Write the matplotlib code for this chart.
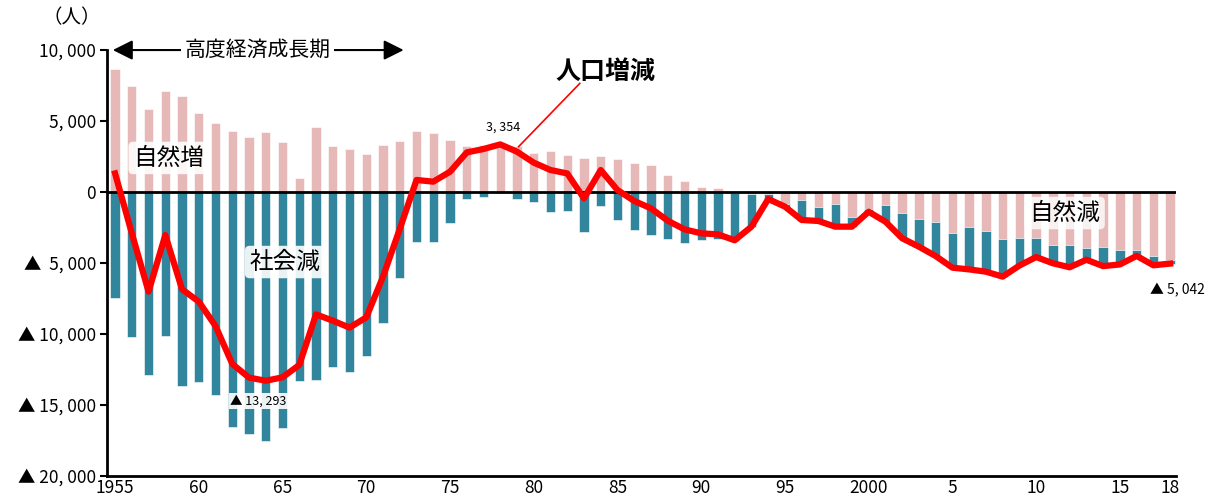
import numpy as np
import matplotlib
matplotlib.use("Agg")
import matplotlib.pyplot as plt

plt.rcParams['font.family'] = ['Noto Sans CJK JP', 'DejaVu Sans']

years = list(range(1955, 2019))

# 自然増減 (births - deaths)
natural = [8660, 7460, 5870, 7130, 6780, 5560, 4840, 4320, 3900, 4250,
           3520, 1010, 4580, 3240, 3000, 2650, 3310, 3590, 4300, 4130,
           3660, 3260, 3310, 3430, 3260, 2770, 2890, 2610, 2420, 2540,
           2320, 2040, 1900, 1220, 770, 350, 260, -60, -150, -150,
           -850, -560, -1080, -850, -1760, -1180, -940, -1460, -1920, -2110,
           -2860, -2490, -2720, -3330, -3250, -3260, -3730, -3730, -3970, -3850,
           -4080, -4080, -4510, -4790]

# 社会増減 (in - out migration)
social = [-7490, -10190, -12910, -10140, -13660, -13360, -14300, -16530, -17070, -17540,
          -16620, -13290, -13240, -12320, -12680, -11550, -9250, -6030, -3500, -3500,
          -2160, -490, -330, -80, -520, -730, -1390, -1340, -2840, -990,
          -1990, -2700, -3050, -3330, -3570, -3380, -3330, -3400, -2290, -340,
          -180, -1500, -1010, -1590, -680, -210, -1150, -1800, -1930, -2400,
          -2470, -2960, -2890, -2630, -1900, -1410, -1290, -1530, -940, -1290,
          -940, -470, -470, -250]

# 人口増減
total = [1310, -2900, -7020, -3030, -6850, -7720, -9440, -12110, -13070, -13293,
         -13050, -12180, -8620, -9060, -9550, -8830, -5960, -2600, 850, 730,
         1430, 2790, 3030, 3354, 2840, 2070, 1550, 1310, -450, 1550,
         140, -630, -1150, -2020, -2630, -2910, -2980, -3400, -2440, -490,
         -1030, -1970, -2040, -2440, -2440, -1390, -2090, -3260, -3850, -4510,
         -5330, -5450, -5610, -5960, -5180, -4580, -5020, -5300, -4770, -5220,
         -5100, -4500, -5160, -5042]

xtick_years = [1955, 1960, 1965, 1970, 1975, 1980, 1985, 1990, 1995, 2000, 2005, 2010, 2015, 2018]
xtick_labels = ['1955', '60', '65', '70', '75', '80', '85', '90', '95', '2000', '5', '10', '15', '18']
ytick_vals = [10000, 5000, 0, -5000, -10000, -15000, -20000]
ytick_labels = ['10, 000', '5, 000', '0', '▲  5, 000', '▲ 10, 000', '▲ 15, 000', '▲ 20, 000']

pink = '#e6b9b8'
teal = '#31859c'

fig = plt.figure(figsize=(12.12, 4.97), dpi=100)
ax = fig.add_axes([0.0883, 0.0423, 0.882, 0.857])

nat = np.array(natural)
soc = np.array(social)
ax.bar(years, nat, width=0.56, color=pink, edgecolor='white', linewidth=0.4, zorder=2)
ax.bar(years, soc, width=0.56, bottom=np.minimum(nat, 0), color=teal,
       edgecolor='white', linewidth=0.4, zorder=2)
ax.axhline(0, color='black', lw=2, zorder=3)
ax.plot(years, total, color='#ff0000', lw=4.5, zorder=5, solid_joinstyle='round')

ax.set_xlim(1954.52, 2018.35)
ax.set_ylim(-20000, 10000)
ax.set_xticks(xtick_years)
ax.set_xticklabels(xtick_labels, fontsize=12.5)
ax.set_yticks(ytick_vals)
ax.set_yticklabels(ytick_labels, fontsize=12.5)
ax.tick_params(axis='x', length=0, pad=2)
ax.tick_params(axis='y', length=5, width=1.5, pad=3)
for s in ['top', 'right']:
    ax.spines[s].set_visible(False)
for s in ['left', 'bottom']:
    ax.spines[s].set_linewidth(2)

fig.text(72 / 1212, 1 - 18 / 497, '（人）', fontsize=14, ha='center', va='center')

# high growth period arrow
ax.annotate('', xy=(1954.7, 10000), xytext=(1972.4, 10000),
            arrowprops=dict(arrowstyle='<|-|>', color='black', lw=1.5, mutation_scale=30),
            annotation_clip=False, zorder=6)
ax.text(1963.5, 10000, '高度経済成長期', fontsize=15, ha='center', va='center', zorder=7,
        bbox=dict(boxstyle='square,pad=0.15', fc='white', ec='none'))

ax.text(1984.3, 8450, '人口増減', fontsize=18, fontweight='bold', ha='center', va='center')
ax.plot([1982.75, 1979.1], [7650, 3200], color='#ff0000', lw=1.2, zorder=6)
ax.text(1978.2, 4550, '3, 354', fontsize=9, ha='center', va='center')

box = dict(boxstyle='round,pad=0.2', fc='white', ec='none', alpha=0.9)
ax.text(1958.2, 2400, '自然増', fontsize=17, ha='center', va='center', bbox=box, zorder=6)
ax.text(1965.15, -4930, '社会減', fontsize=17, ha='center', va='center', bbox=box, zorder=6)
ax.text(2011.7, -1480, '自然減', fontsize=17, ha='center', va='center',
        bbox=dict(boxstyle='round,pad=0.2', fc='white', ec='none', alpha=0.8), zorder=6)
ax.text(1963.55, -14720, '▲ 13, 293', fontsize=9, ha='center', va='center', zorder=6,
        bbox=dict(boxstyle='square,pad=0.1', fc='white', ec='none', alpha=0.9))
ax.text(2018.45, -6950, '▲ 5, 042', fontsize=10, ha='center', va='center', clip_on=False)

fig.savefig('out.png', dpi=100)
